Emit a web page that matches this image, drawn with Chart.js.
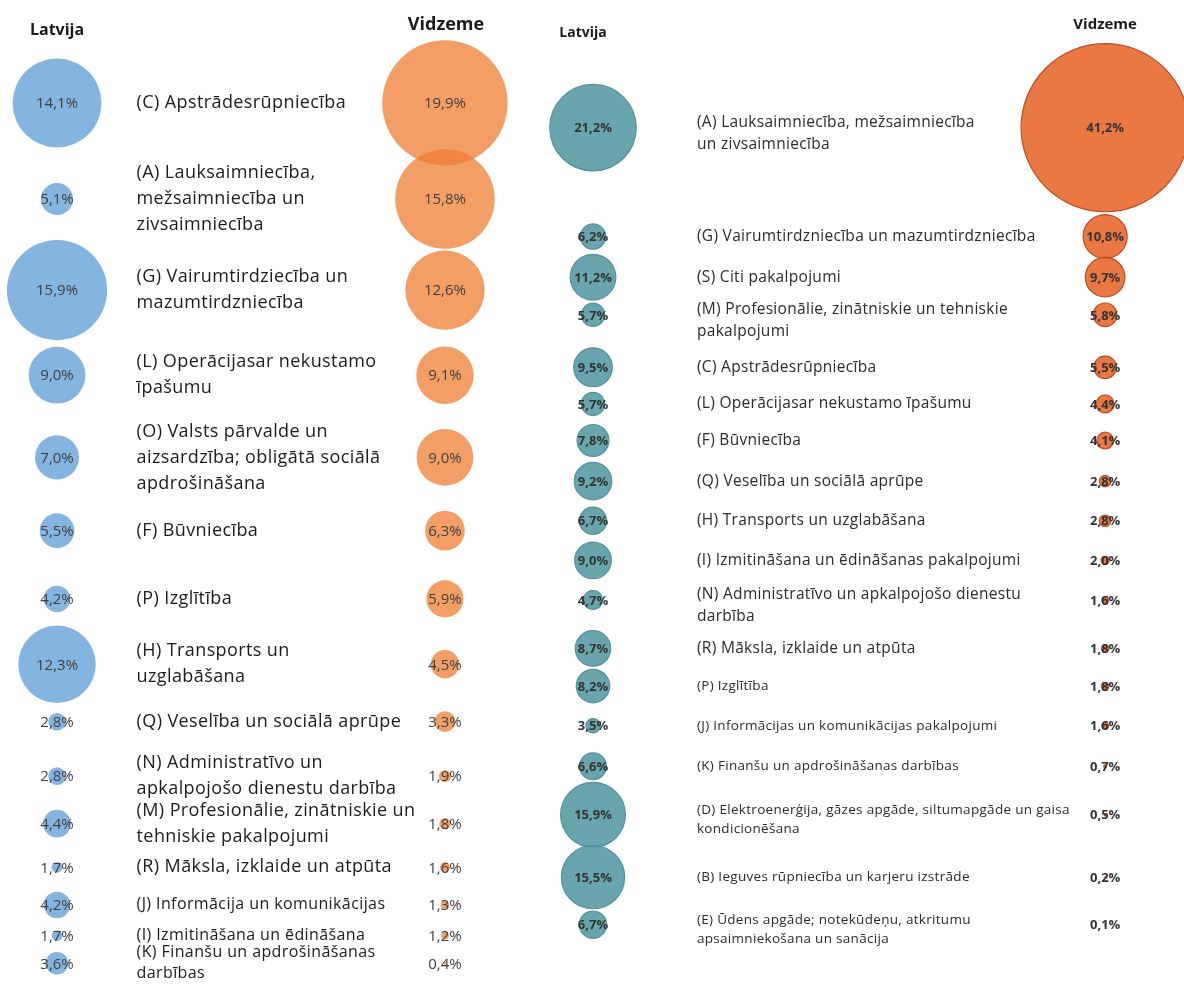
<!DOCTYPE html>
<html>
<head>
<meta charset="utf-8">
<script src="https://cdn.jsdelivr.net/npm/chart.js@4.4.1/dist/chart.umd.min.js"></script>
<style>
    html, body { margin: 0; padding: 0; background: #ffffff; }
    .panel { position: absolute; top: 0; }
    #leftPanel { left: 0; }
    #rightPanel { left: 540px; }
</style>
</head>
<body>
<canvas id="leftPanel" class="panel" width="540" height="990"></canvas>
<canvas id="rightPanel" class="panel" width="644" height="990"></canvas>
<script>
// ---- Left panel data (sorted by Vidzeme share) ----
const leftCategories = [
    ['(C) Apstrādesrūpniecība'],
    ['(A) Lauksaimniecība,', 'mežsaimniecība un', 'zivsaimniecība'],
    ['(G) Vairumtirdziecība un', 'mazumtirdzniecība'],
    ['(L) Operācijasar nekustamo', 'īpašumu'],
    ['(O) Valsts pārvalde un', 'aizsardzība; obligātā sociālā', 'apdrošināšana'],
    ['(F) Būvniecība'],
    ['(P) Izglītība'],
    ['(H) Transports un', 'uzglabāšana'],
    ['(Q) Veselība un sociālā aprūpe'],
    ['(N) Administratīvo un', 'apkalpojošo dienestu darbība'],
    ['(M) Profesionālie, zinātniskie un', 'tehniskie pakalpojumi'],
    ['(R) Māksla, izklaide un atpūta'],
    ['(J) Informācija un komunikācijas'],
    ['(I) Izmitināšana un ēdināšana'],
    ['(K) Finanšu un apdrošināšanas', 'darbības']
];
const leftLatvija = [14.1, 5.1, 15.9, 9.0, 7.0, 5.5, 4.2, 12.3, 2.8, 2.8, 4.4, 1.7, 4.2, 1.7, 3.6];
const leftVidzeme = [19.9, 15.8, 12.6, 9.1, 9.0, 6.3, 5.9, 4.5, 3.3, 1.9, 1.8, 1.6, 1.3, 1.2, 0.4];
// vertical position of each row on a 0-100 axis
const leftRowY = [10.4, 20.1, 29.3, 37.9, 46.2, 53.6, 60.5, 67.1, 72.9, 78.4, 83.2, 87.6, 91.4, 94.5, 97.3];

// ---- Right panel data ----
const rightCategories = [
    ['(A) Lauksaimniecība, mežsaimniecība', 'un zivsaimniecība'],
    ['(G) Vairumtirdzniecība un mazumtirdzniecība'],
    ['(S) Citi pakalpojumi'],
    ['(M) Profesionālie, zinātniskie un tehniskie', 'pakalpojumi'],
    ['(C) Apstrādesrūpniecība'],
    ['(L) Operācijasar nekustamo īpašumu'],
    ['(F) Būvniecība'],
    ['(Q) Veselība un sociālā aprūpe'],
    ['(H) Transports un uzglabāšana'],
    ['(I) Izmitināšana un ēdināšanas pakalpojumi'],
    ['(N) Administratīvo un apkalpojošo dienestu', 'darbība'],
    ['(R) Māksla, izklaide un atpūta'],
    ['(P) Izglītība'],
    ['(J) Informācijas un komunikācijas pakalpojumi'],
    ['(K) Finanšu un apdrošināšanas darbības'],
    ['(D) Elektroenerģija, gāzes apgāde, siltumapgāde un gaisa', 'kondicionēšana'],
    ['(B) Ieguves rūpniecība un karjeru izstrāde'],
    ['(E) Ūdens apgāde; notekūdeņu, atkritumu', 'apsaimniekošana un sanācija']
];
const rightLatvija = [21.2, 6.2, 11.2, 5.7, 9.5, 5.7, 7.8, 9.2, 6.7, 9.0, 4.7, 8.7, 8.2, 3.5, 6.6, 15.9, 15.5, 6.7];
const rightVidzeme = [41.2, 10.8, 9.7, 5.8, 5.5, 4.4, 4.1, 2.8, 2.8, 2.0, 1.6, 1.8, 1.8, 1.6, 0.7, 0.5, 0.2, 0.1];
const rightRowY = [12.9, 23.9, 28.0, 31.8, 37.1, 40.8, 44.5, 48.6, 52.6, 56.6, 60.6, 65.5, 69.3, 73.3, 77.4, 82.3, 88.6, 93.4];

const seriesNames = ['Latvija', 'Vidzeme'];

const BubblePanels = {
    charts: new Map(),

    /**
     * Format share as Latvian percent text
     * @param {number} v - Value
     * @returns {string}
     */
    pct(v) {
        return v.toFixed(1).replace('.', ',') + '%';
    },

    /**
     * Plugin that writes headers, category labels and values
     */
    textPlugin: {
        id: 'panelText',
        afterDatasetsDraw(chart) {
            const cfg = chart.options.plugins.panelText;
            const { ctx } = chart;
            const x = chart.scales.x;
            const y = chart.scales.y;
            ctx.save();
            ctx.textBaseline = 'middle';

            // column headers
            ctx.textAlign = 'center';
            ctx.fillStyle = '#1a1a1a';
            cfg.headers.forEach((h, i) => {
                ctx.font = h.font;
                ctx.fillText(seriesNames[i], x.getPixelForValue(i) + h.dx, h.y);
            });

            // category labels
            ctx.textAlign = 'left';
            ctx.letterSpacing = cfg.letterSpacing;
            cfg.categories.forEach((lines, i) => {
                const small = i >= cfg.smallFrom;
                const lh = small ? cfg.smallLineHeight : cfg.lineHeight;
                ctx.font = small ? cfg.smallFont : cfg.labelFont;
                ctx.fillStyle = cfg.labelColor;
                const cy = y.getPixelForValue(cfg.rowY[i]);
                const top = cy - (lines.length - 1) * lh * cfg.anchor;
                lines.forEach((line, j) => {
                    ctx.fillText(line, x.getPixelForValue(cfg.labelX), top + j * lh);
                });
            });
            ctx.letterSpacing = '0px';

            // bubble values
            ctx.textAlign = 'center';
            ctx.font = cfg.valueFont;
            ctx.fillStyle = cfg.valueColor;
            chart.data.datasets.forEach(ds => {
                ds.data.forEach(pt => {
                    ctx.fillText(BubblePanels.pct(pt.v), x.getPixelForValue(pt.x), y.getPixelForValue(pt.y) + 1);
                });
            });
            ctx.restore();
        }
    },

    /**
     * Create one panel of two bubble columns
     * @param {string} canvasId - Canvas element ID
     * @param {Object} spec - Panel data and look
     * @returns {Object} - Chart instance
     */
    createPanel(canvasId, spec) {
        const canvas = document.getElementById(canvasId);
        const toPoints = (vals, col) => vals.map((v, i) => ({ x: col, y: spec.rowY[i], r: v * spec.sizeK, v }));

        const chart = new Chart(canvas.getContext('2d'), {
            type: 'bubble',
            data: {
                datasets: [spec.latvija, spec.vidzeme].map((vals, d) => ({
                    label: seriesNames[d],
                    data: toPoints(vals, d),
                    backgroundColor: spec.colors[d],
                    borderColor: spec.borders[d],
                    borderWidth: spec.borderWidth,
                    clip: false
                }))
            },
            options: {
                responsive: false,
                animation: false,
                layout: { padding: 0, autoPadding: false },
                scales: {
                    x: { type: 'linear', display: false, min: spec.xMin, max: spec.xMax },
                    y: { type: 'linear', display: false, min: 0, max: 100, reverse: true }
                },
                plugins: {
                    legend: { display: false },
                    tooltip: { enabled: false },
                    panelText: {
                        categories: spec.categories,
                        rowY: spec.rowY,
                        labelX: spec.labelX,
                        headers: spec.headers,
                        labelFont: spec.labelFont,
                        smallFont: spec.smallFont,
                        smallFrom: spec.smallFrom,
                        lineHeight: spec.lineHeight,
                        smallLineHeight: spec.smallLineHeight,
                        letterSpacing: spec.letterSpacing,
                        anchor: spec.anchor,
                        labelColor: spec.labelColor,
                        valueFont: spec.valueFont,
                        valueColor: spec.valueColor
                    }
                }
            },
            plugins: [this.textPlugin]
        });
        this.charts.set(canvasId, chart);
        return chart;
    }
};

BubblePanels.createPanel('leftPanel', {
    categories: leftCategories,
    latvija: leftLatvija,
    vidzeme: leftVidzeme,
    rowY: leftRowY,
    sizeK: 3.15,
    xMin: -0.147,
    xMax: 1.245,
    labelX: 0.205,
    colors: ['rgba(91,155,213,0.75)', 'rgba(237,125,49,0.75)'],
    borders: ['rgba(0,0,0,0)', 'rgba(0,0,0,0)'],
    borderWidth: 0,
    headers: [
        { font: 'bold 16px "Open Sans"', y: 30, dx: 0 },
        { font: 'bold 18px "Open Sans"', y: 25, dx: 1 }
    ],
    labelFont: '18px "Open Sans"',
    smallFont: '16px "Open Sans"',
    smallFrom: 12,
    lineHeight: 26,
    smallLineHeight: 21,
    letterSpacing: '0.4px',
    anchor: 0.5,
    labelColor: '#1c1c1c',
    valueFont: '15px "Open Sans"',
    valueColor: '#404040'
});

BubblePanels.createPanel('rightPanel', {
    categories: rightCategories,
    latvija: rightLatvija,
    vidzeme: rightVidzeme,
    rowY: rightRowY,
    sizeK: 2.04,
    xMin: -0.1035,
    xMax: 1.154,
    labelX: 0.203,
    colors: ['rgba(88,155,164,0.9)', 'rgba(232,108,50,0.92)'],
    borders: ['rgba(75,140,150,0.9)', 'rgba(185,70,30,0.95)'],
    borderWidth: 1.2,
    headers: [
        { font: 'bold 14px "Open Sans"', y: 33, dx: -10 },
        { font: 'bold 15px "Open Sans"', y: 25, dx: 0 }
    ],
    labelFont: '15.5px "Open Sans"',
    smallFont: '13.5px "Open Sans"',
    smallFrom: 12,
    lineHeight: 22,
    smallLineHeight: 19,
    letterSpacing: '0.3px',
    anchor: 0.25,
    labelColor: '#2b2b2b',
    valueFont: 'bold 13px "Open Sans"',
    valueColor: '#333333'
});
</script>
</body>
</html>
